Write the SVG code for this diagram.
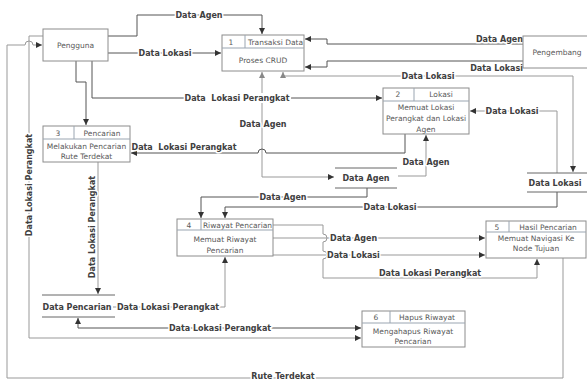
<svg xmlns="http://www.w3.org/2000/svg" width="587" height="380" viewBox="0 0 587 380">
<defs>
<style>
.box{fill:#fff;stroke:#8c8c8c;stroke-width:1}
.div{stroke:#9aa5b1;stroke-width:1;fill:none}
.pt{font-family:"DejaVu Sans",sans-serif;font-size:7.5px;fill:#595959}
.lbl{font-family:"DejaVu Sans",sans-serif;font-size:8px;font-weight:bold;fill:#404040;paint-order:stroke;stroke:#fff;stroke-width:3px;stroke-linejoin:round;white-space:pre}
.st{font-family:"DejaVu Sans",sans-serif;font-size:8px;font-weight:bold;fill:#404040}
.dk{fill:none;stroke:#555;stroke-width:1}
.gr{fill:none;stroke:#999;stroke-width:1}
.sl{stroke:#666;stroke-width:1}
</style>
<marker id="ad" markerUnits="userSpaceOnUse" markerWidth="7" markerHeight="6" refX="6" refY="3" orient="auto-start-reverse"><path d="M0,0 L6,3 L0,6 z" fill="#333"/></marker>
<marker id="ag" markerUnits="userSpaceOnUse" markerWidth="7" markerHeight="6" refX="6" refY="3" orient="auto-start-reverse"><path d="M0,0 L6,3 L0,6 z" fill="#888"/></marker>
</defs>
<rect width="587" height="380" fill="#fff"/>

<g id="connectors">
<path class="dk" d="M108,36 H137 V15 H262 V34" marker-end="url(#ad)"/>
<path class="dk" d="M108,53 H221" marker-end="url(#ad)"/>
<path class="dk" d="M523,44 H327 V39 H305" marker-end="url(#ad)"/>
<path class="dk" d="M523,61 H327 V67 H305" marker-end="url(#ad)"/>
<path class="gr" d="M283,72 V76 H573 V172" marker-start="url(#ag)" marker-end="url(#ad)"/>
<path class="dk" d="M92,61 V98 H382" marker-end="url(#ad)"/>
<path class="dk" d="M76,61 V82 H86 V125" marker-end="url(#ad)"/>
<path class="gr" d="M262,72 V177 H334" marker-start="url(#ag)" marker-end="url(#ad)"/>
<path class="dk" d="M405,134 V153 H266 a4,4 0 0 0 -8,0 H131" marker-end="url(#ad)"/>
<path class="gr" d="M398,176 H426 V135" marker-end="url(#ad)"/>
<path class="gr" d="M557,173 V111 H470" marker-end="url(#ad)"/>
<path class="dk" d="M367,188 V197 H201 V218" marker-end="url(#ad)"/>
<path class="dk" d="M557,192 V207 H225 V218" marker-end="url(#ad)"/>
<path class="gr" d="M273,225 H323 V234 a4,4 0 0 1 0,8 V251 a4,4 0 0 1 0,8 V278 H537 V259" marker-end="url(#ad)"/>
<path class="gr" d="M273,238 H485" marker-end="url(#ad)"/>
<path class="gr" d="M273,255 H485" marker-end="url(#ad)"/>
<path class="gr" d="M98,162 V294" marker-end="url(#ad)"/>
<path class="gr" d="M113,307 H225 V257" marker-end="url(#ad)"/>
<path class="dk" d="M78,318 V328 H361" marker-start="url(#ad)" marker-end="url(#ad)"/>
<path class="gr" d="M43,36 H29 V338 H361" marker-end="url(#ad)"/>
<path class="gr" d="M563,258 V378 H7 V45 H25 a4,4 0 0 1 8,0 H42" marker-end="url(#ad)"/>

<rect x="184" y="93" width="107" height="10" fill="#fff"/>
<text class="lbl" x="199" y="18" text-anchor="middle">Data Agen</text>
<text class="lbl" x="165" y="56" text-anchor="middle">Data Lokasi</text>
<text class="lbl" x="523" y="42" text-anchor="end">Data Agen</text>
<text class="lbl" x="523" y="71" text-anchor="end">Data Lokasi</text>
<text class="lbl" x="428" y="79" text-anchor="middle">Data Lokasi</text>
<text class="lbl" x="237" y="101" text-anchor="middle">Data  Lokasi Perangkat</text>
<text class="lbl" x="512" y="114" text-anchor="middle">Data Lokasi</text>
<text class="lbl" x="263" y="127" text-anchor="middle">Data Agen</text>
<text class="lbl" x="184" y="150" text-anchor="middle">Data  Lokasi Perangkat</text>
<text class="lbl" x="426" y="165" text-anchor="middle">Data Agen</text>
<text class="lbl" x="283" y="200" text-anchor="middle">Data Agen</text>
<text class="lbl" x="390" y="210" text-anchor="middle">Data Lokasi</text>
<text class="lbl" x="330" y="241">Data Agen</text>
<text class="lbl" x="327" y="258">Data Lokasi</text>
<text class="lbl" x="430" y="276" text-anchor="middle">Data Lokasi Perangkat</text>
<text class="lbl" x="168" y="310" text-anchor="middle">Data Lokasi Perangkat</text>
<text class="lbl" x="220" y="331" text-anchor="middle">Data Lokasi Perangkat</text>
<text class="lbl" x="283" y="379" text-anchor="middle">Rute Terdekat</text>
<text class="lbl" transform="translate(32,185) rotate(-90)" text-anchor="middle">Data Lokasi Perangkat</text>
<text class="lbl" transform="translate(95,227) rotate(-90)" text-anchor="middle">Data Lokasi Perangkat</text>
</g>

<g id="pengguna">
<rect class="box" x="43" y="29" width="65" height="32"/>
<text class="pt" x="75.5" y="48" text-anchor="middle">Pengguna</text>
</g>

<g id="pengembang">
<rect class="box" x="523" y="36" width="70" height="32"/>
<text class="pt" x="557" y="55" text-anchor="middle">Pengembang</text>
</g>

<g id="p1">
<rect class="box" x="222" y="35" width="82" height="36"/>
<line class="div" x1="222" y1="48" x2="304" y2="48"/>
<line class="div" x1="245" y1="35" x2="245" y2="48"/>
<text class="pt" x="231" y="44.5" text-anchor="middle">1</text>
<text class="pt" x="248" y="44.5">Transaksi Data</text>
<text class="pt" x="263" y="62.5" text-anchor="middle">Proses CRUD</text>
</g>

<g id="p2">
<rect class="box" x="383" y="88" width="86" height="46"/>
<line class="div" x1="383" y1="101" x2="469" y2="101"/>
<line class="div" x1="414" y1="88" x2="414" y2="101"/>
<text class="pt" x="398" y="97" text-anchor="middle">2</text>
<text class="pt" x="441" y="97" text-anchor="middle">Lokasi</text>
<text class="pt" x="426" y="110" text-anchor="middle">Memuat Lokasi</text>
<text class="pt" x="426" y="121" text-anchor="middle">Perangkat dan Lokasi</text>
<text class="pt" x="426" y="132" text-anchor="middle">Agen</text>
</g>

<g id="p3">
<rect class="box" x="43" y="126" width="87" height="36"/>
<line class="div" x1="43" y1="139" x2="130" y2="139"/>
<line class="div" x1="74" y1="126" x2="74" y2="139"/>
<text class="pt" x="58" y="135.5" text-anchor="middle">3</text>
<text class="pt" x="102" y="135.5" text-anchor="middle">Pencarian</text>
<text class="pt" x="86.5" y="149" text-anchor="middle">Melakukan Pencarian</text>
<text class="pt" x="86.5" y="159" text-anchor="middle">Rute Terdekat</text>
</g>

<g id="p4">
<rect class="box" x="177" y="219" width="96" height="37"/>
<line class="div" x1="177" y1="230" x2="273" y2="230"/>
<line class="div" x1="201" y1="219" x2="201" y2="230"/>
<text class="pt" x="189" y="227.5" text-anchor="middle">4</text>
<text class="pt" x="237.5" y="227.5" text-anchor="middle">Riwayat Pencarian</text>
<text class="pt" x="225" y="242" text-anchor="middle">Memuat Riwayat</text>
<text class="pt" x="225" y="253" text-anchor="middle">Pencarian</text>
</g>

<g id="p5">
<rect class="box" x="486" y="221" width="100" height="37"/>
<line class="div" x1="486" y1="232" x2="586" y2="232"/>
<line class="div" x1="509" y1="221" x2="509" y2="232"/>
<text class="pt" x="497" y="229.5" text-anchor="middle">5</text>
<text class="pt" x="548" y="229.5" text-anchor="middle">Hasil Pencarian</text>
<text class="pt" x="536" y="241" text-anchor="middle">Memuat Navigasi Ke</text>
<text class="pt" x="536" y="251" text-anchor="middle">Node Tujuan</text>
</g>

<g id="p6">
<rect class="box" x="362" y="311" width="103" height="36"/>
<line class="div" x1="362" y1="323" x2="465" y2="323"/>
<line class="div" x1="390" y1="311" x2="390" y2="323"/>
<text class="pt" x="376" y="320" text-anchor="middle">6</text>
<text class="pt" x="427" y="320" text-anchor="middle">Hapus Riwayat</text>
<text class="pt" x="413" y="334" text-anchor="middle">Mengahapus Riwayat</text>
<text class="pt" x="413" y="344" text-anchor="middle">Pencarian</text>
</g>

<g id="store-data-agen">
<line class="sl" x1="335" y1="168" x2="397" y2="168"/>
<line class="sl" x1="335" y1="188" x2="397" y2="188"/>
<text class="st" x="366" y="181" text-anchor="middle">Data Agen</text>
</g>

<g id="store-data-lokasi">
<line class="sl" x1="527" y1="173" x2="587" y2="173"/>
<line class="sl" x1="527" y1="192" x2="587" y2="192"/>
<text class="st" x="555" y="186" text-anchor="middle">Data Lokasi</text>
</g>

<g id="store-data-pencarian">
<line class="sl" x1="42" y1="295" x2="115" y2="295"/>
<line class="sl" x1="42" y1="317" x2="115" y2="317"/>
<text class="st" x="77" y="310" text-anchor="middle">Data Pencarian</text>
</g>
</svg>
